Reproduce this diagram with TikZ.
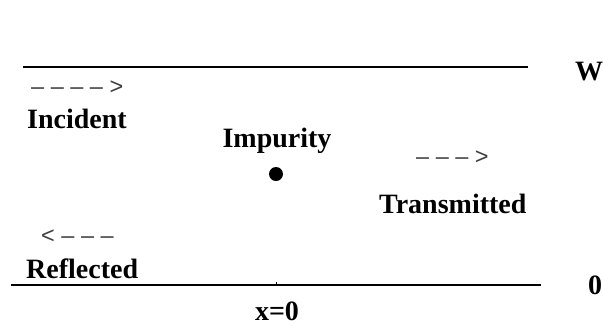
\documentclass[tikz,border=0pt]{standalone}
\usepackage{fontspec}
\setmainfont{Liberation Serif}
\newfontfamily\dashfont{Liberation Sans}
\begin{document}
\begin{tikzpicture}[x=1pt,y=-1pt,
  lbl/.style={font=\fontsize{28}{30}\selectfont\bfseries, inner sep=0pt, anchor=base west},
  dashtxt/.style={font=\dashfont\fontsize{23.5}{26}\selectfont, text=black!75, inner sep=0pt, anchor=west},
  wall/.style={line width=1.3pt}]
\useasboundingbox (0,0) rectangle (603,325);
\coordinate (t1) at (23,67);
\coordinate (t2) at (528,67);
\coordinate (b1) at (11,285);
\coordinate (b2) at (541,285);
\coordinate (tk) at (276,282);
\coordinate (tb) at (276,285);
\draw[wall] (t1) -- (t2);
\draw[wall] (b1) -- (b2);
\draw[line width=0.6pt] (tb) -- (tk);
\node[lbl, anchor=base] (w) at (589,80) {W};
\node[lbl, anchor=base] (z) at (595,294) {0};
\node[lbl, anchor=base] (x0) at (277,320) {x=0};
\node[lbl] (inc) at (27,128) {Incident};
\node[lbl, anchor=base] (imp) at (277,147) {Impurity};
\node[lbl] (tra) at (379,213) {Transmitted};
\node[lbl] (ref) at (26,278) {Reflected};
\node[dashtxt] (d1) at (31,88) {– – – – >};
\node[dashtxt] (d2) at (416,158) {– – – >};
\node[dashtxt] (d3) at (41,237) {< – – –};
\fill (276,174) circle (7);
\end{tikzpicture}
\end{document}
